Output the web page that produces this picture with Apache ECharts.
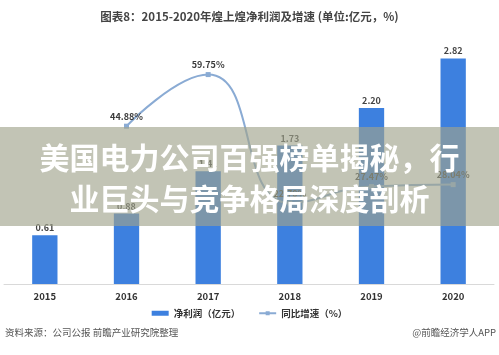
<!DOCTYPE html>
<html>
<head>
<meta charset="utf-8">
<style>
html,body{margin:0;padding:0;background:#fff;}
#c{width:499px;height:355px;}
</style>
<script src="https://cdn.jsdelivr.net/npm/echarts@6/dist/echarts.min.js"></script>
</head>
<body>
<div id="c"></div>
<script>
var categories = ['2015','2016','2017','2018','2019','2020'];
var profit = [0.61, 0.88, 1.41, 1.73, 2.20, 2.82];
var growth = [null, 44.88, 59.75, 22.70, 27.47, 28.04];
var titleText = '图表8：2015-2020年煌上煌净利润及增速 (单位:亿元，%)';
var bannerLine1 = '美国电力公司百强榜单揭秘，行';
var bannerLine2 = '业巨头与竞争格局深度剖析';
var sourceText = '资料来源：公司公报 前瞻产业研究院整理';
var brandText = '@前瞻经济学人APP';

var FONT = '"Noto Sans CJK SC", "Noto Sans", sans-serif';
var chart = echarts.init(document.getElementById('c'), null, {renderer:'canvas'});
chart.setOption({
  backgroundColor:'#fff',
  animation:false,
  textStyle:{fontFamily:FONT},
  title:{
    text:titleText, left:'center', top:6,
    textStyle:{fontSize:11.5, fontWeight:'bold', color:'#444', fontFamily:FONT}
  },
  legend:{
    bottom:32, left:'center', itemGap:18, itemWidth:17, itemHeight:5,
    textStyle:{fontSize:9.5, fontWeight:'bold', color:'#333', fontFamily:FONT},
    data:[{name:'净利润（亿元）', icon:'rect'}, {name:'同比增速（%）'}]
  },
  grid:{left:4, right:5, top:30, bottom:71, containLabel:false},
  xAxis:{
    type:'category', data:categories,
    axisLine:{lineStyle:{color:'#d9d9d9', width:1}},
    axisTick:{show:false},
    axisLabel:{fontSize:9.5, fontWeight:'bold', color:'#333', margin:8, fontFamily:FONT}
  },
  yAxis:[
    {type:'value', min:0, max:3.175, show:false, splitLine:{show:false}},
    {type:'value', min:-0.6, max:72.6, show:false, splitLine:{show:false}}
  ],
  series:[
    {
      name:'净利润（亿元）', type:'bar', data:profit, barWidth:'31%',
      itemStyle:{color:'#3d80df'},
      label:{show:true, position:'top', distance:3, fontSize:9, fontWeight:'bold', color:'#444',
        formatter:function(p){return p.value.toFixed(2);}}
    },
    {
      name:'同比增速（%）', type:'line', yAxisIndex:1, data:growth, smooth:0.5,
      symbol:'rect', symbolSize:5, showSymbol:true,
      lineStyle:{color:'#8aabd4', width:2},
      itemStyle:{color:'#8aabd4'},
      label:{show:true, position:'top', distance:3, fontSize:9, fontWeight:600, color:'#3a3a3a',
        formatter:function(p){return p.value==null?'':p.value.toFixed(2)+'%';}},
      z:3
    }
  ],
  graphic:[
    {type:'rect', z:100, shape:{x:0, y:127, width:499, height:99},
      style:{fill:'rgba(160,162,140,0.64)'}},
    {type:'text', z:101, left:'center', top:143,
      style:{text:bannerLine1, fill:'#fff', font:'bold 30px '+FONT,
        shadowBlur:2, shadowColor:'rgba(0,0,0,0.15)'}},
    {type:'text', z:101, left:'center', top:184,
      style:{text:bannerLine2, fill:'#fff', font:'bold 30px '+FONT,
        shadowBlur:2, shadowColor:'rgba(0,0,0,0.15)'}},
    {type:'text', z:50, left:5, top:328,
      style:{text:sourceText, fill:'#555', font:'9.5px '+FONT}},
    {type:'text', z:50, right:3, top:328,
      style:{text:brandText, fill:'#555', font:'9.5px '+FONT}}
  ]
});
</script>
</body>
</html>
